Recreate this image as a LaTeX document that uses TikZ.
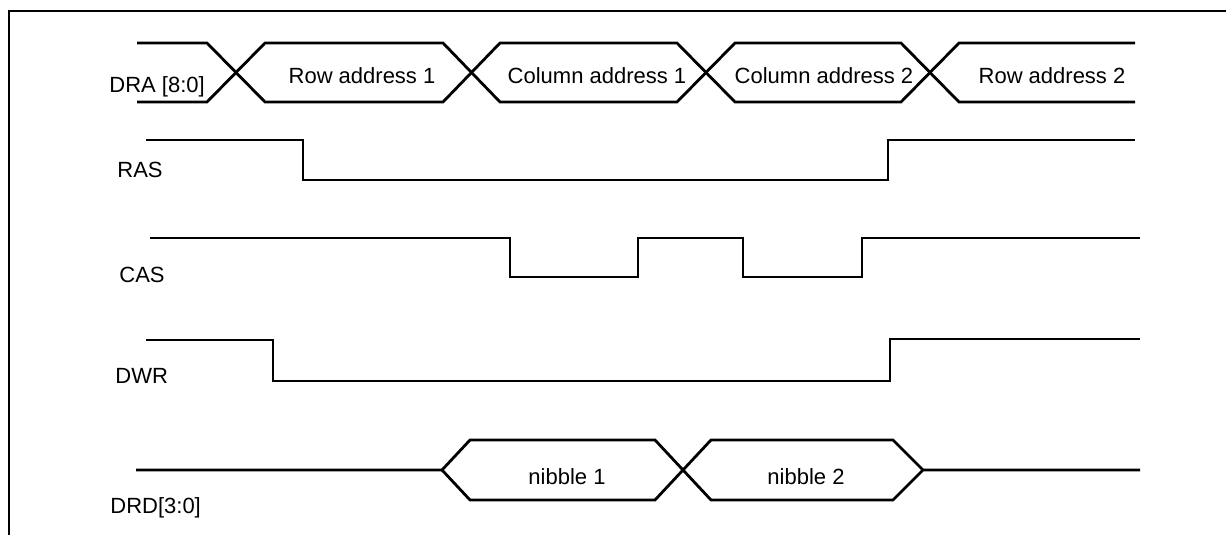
\documentclass[tikz,border=0pt]{standalone}
\usepackage{fontspec}
\setmainfont{Liberation Sans}
\begin{document}
\begin{tikzpicture}[x=.5pt,y=-.5pt,
    sig/.style={line width=1.4pt,line join=miter},
    lbl/.style={font=\fontsize{11}{13}\selectfont,inner sep=0pt}]
    \useasboundingbox (0,0) rectangle (1226,535);
    \draw[line width=1.2pt] (9,535) -- (9,11) -- (1226,11);
    \draw[sig] (137,43) -- (207,43) -- (265,102) -- (443,102) -- (500,43) -- (677,43) -- (735,102) -- (901,102) -- (959,43) -- (1135,43);
    \draw[sig] (137,102) -- (207,102) -- (265,43) -- (443,43) -- (500,102) -- (677,102) -- (735,43) -- (901,43) -- (959,102) -- (1135,102);
    \draw[sig] (146,140) -- (303,140) -- (303,180) -- (888,180) -- (888,140) -- (1135,140);
    \draw[sig] (150,238) -- (510,238) -- (510,277) -- (638,277) -- (638,238) -- (743,238) -- (743,277) -- (862,277) -- (862,238) -- (1140,238);
    \draw[sig] (146,340) -- (273,340) -- (273,381) -- (890,381) -- (890,339) -- (1140,339);
    \draw[sig] (136,470) -- (442,470) -- (470,440) -- (655,440) -- (711,500) -- (893,500) -- (923,470) -- (1140,470);
    \draw[sig] (442,470) -- (470,500) -- (655,500) -- (711,440) -- (893,440) -- (923,470);
    \node[lbl,anchor=base west] (dra) at (109,93) {DRA [8:0]};
    \node[lbl,anchor=base west] (ras) at (117,177) {RAS};
    \node[lbl,anchor=base west] (cas) at (119,282) {CAS};
    \node[lbl,anchor=base west] (dwr) at (115,383) {DWR};
    \node[lbl,anchor=base west] (drd) at (110,513) {DRD[3:0]};
    \foreach \x/\t [count=\i] in {362/Row address 1,597/Column address 1,824/Column address 2,1052/Row address 2}
        \node[lbl,anchor=base] (addr\i) at (\x,84) {\t};
    \foreach \x/\t [count=\i] in {567/nibble 1,806/nibble 2}
        \node[lbl,anchor=base] (nib\i) at (\x,484) {\t};
\end{tikzpicture}
\end{document}
